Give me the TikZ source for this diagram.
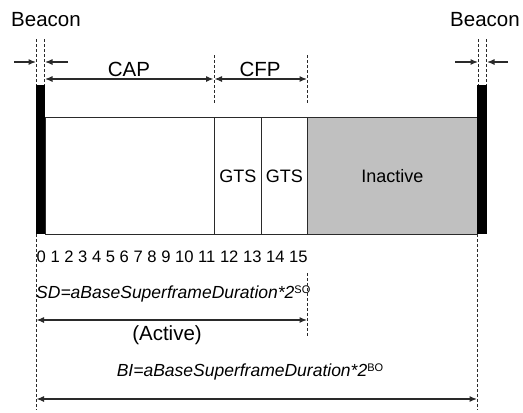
\documentclass[tikz,border=0pt]{standalone}
\usepackage{fontspec}
\setmainfont{Liberation Sans}
\usetikzlibrary{arrows.meta}
\definecolor{edgegray}{HTML}{2A2A2A}
\definecolor{inactgray}{HTML}{C0C0C0}
\newcommand{\supsm}[1]{\raisebox{5.5pt}{\fontsize{11}{12}\selectfont\upshape #1}}
\begin{document}
\begin{tikzpicture}[x=1pt,y=-1pt,
  dashln/.style={draw=edgegray, line width=0.7pt, dash pattern=on 3pt off 2pt},
  arr/.style={draw=edgegray, line width=1.2pt, -{Latex[length=7.5pt,width=6pt]}},
  darr/.style={draw=edgegray, line width=1.2pt, {Latex[length=7.5pt,width=6pt]}-{Latex[length=7.5pt,width=6pt]}},
  slot/.style={draw=edgegray, line width=0.9pt, anchor=north west, inner sep=0pt, minimum height=117pt, font=\fontsize{18}{20}\selectfont},
  bar/.style={fill=black, draw=none, anchor=north west, inner sep=0pt, minimum height=149pt},
  big/.style={inner sep=0pt, font=\fontsize{20.5}{24}\selectfont},
  formula/.style={inner sep=0pt, font=\fontsize{17.5}{20}\selectfont\itshape}
]
\useasboundingbox (0,0) rectangle (523,413);

% frame slots
\node[slot, minimum width=169pt] (capbox) at (45,117) {};
\node[slot, minimum width=47pt] (gtsa) at (214,117) {GTS};
\node[slot, minimum width=46pt] (gtsb) at (261,117) {GTS};
\node[slot, minimum width=170pt, fill=inactgray] (inact) at (307,117) {Inactive};
\node[bar, minimum width=9pt] (bcnL) at (36,85) {};
\node[bar, minimum width=10pt] (bcnR) at (477,85) {};

% labels
\node[big] (tBeaconL) at (46,20) {Beacon};
\node[big] (tBeaconR) at (485,20) {Beacon};
\node[big] (tCAP) at (129,69) {CAP};
\node[big] (tCFP) at (260,69) {CFP};
\node[inner sep=0pt, anchor=west, font=\fontsize{16.6}{18}\selectfont] (nums) at (36.5,257) {0 1 2 3 4 5 6 7 8 9 10 11 12 13 14 15};
\node[formula, anchor=west] (tSD) at (36,294) {SD=aBaseSuperframeDuration*2\supsm{SO}};
\node[big] (tActive) at (167,335) {(Active)};
\node[formula] (tBI) at (250,372) {BI=aBaseSuperframeDuration*2\supsm{BO}};

% coordinates
\coordinate (dL1t) at (36,39);  \coordinate (dL1b) at (36,85);
\coordinate (dL2t) at (44,39);  \coordinate (dL2b) at (44,85);
\coordinate (dR1t) at (478,39); \coordinate (dR1b) at (478,85);
\coordinate (dR2t) at (486,39); \coordinate (dR2b) at (486,85);
\coordinate (dCAPt) at (214,55); \coordinate (dCAPb) at (214,103);
\coordinate (dCFPt) at (307,55); \coordinate (dCFPb) at (307,103);
\coordinate (dLowLt) at (36,234); \coordinate (dLowLb) at (36,410);
\coordinate (dLowRt) at (477,234); \coordinate (dLowRb) at (477,410);
\coordinate (dSDt) at (307,273); \coordinate (dSDb) at (307,336);

\coordinate (aL1s) at (14,62); \coordinate (aL1e) at (36,62);
\coordinate (aL2s) at (68,62); \coordinate (aL2e) at (45,62);
\coordinate (aR1s) at (455,62); \coordinate (aR1e) at (478,62);
\coordinate (aR2s) at (508,62); \coordinate (aR2e) at (487,62);
\coordinate (capS) at (45,79); \coordinate (capE) at (213.5,79);
\coordinate (cfpS) at (214.5,79); \coordinate (cfpE) at (307,79);
\coordinate (sdS) at (36.5,320); \coordinate (sdE) at (307,320);
\coordinate (biS) at (36.5,399); \coordinate (biE) at (477,399);

% dashed guides
\draw[dashln] (dL1t) -- (dL1b);
\draw[dashln] (dL2t) -- (dL2b);
\draw[dashln] (dR1t) -- (dR1b);
\draw[dashln] (dR2t) -- (dR2b);
\draw[dashln] (dCAPt) -- (dCAPb);
\draw[dashln] (dCFPt) -- (dCFPb);
\draw[dashln] (dLowLt) -- (dLowLb);
\draw[dashln] (dLowRt) -- (dLowRb);
\draw[dashln] (dSDt) -- (dSDb);

% arrows
\draw[arr] (aL1s) -- (aL1e);
\draw[arr] (aL2s) -- (aL2e);
\draw[arr] (aR1s) -- (aR1e);
\draw[arr] (aR2s) -- (aR2e);
\draw[darr] (capS) -- (capE);
\draw[darr] (cfpS) -- (cfpE);
\draw[darr] (sdS) -- (sdE);
\draw[darr] (biS) -- (biE);
\end{tikzpicture}
\end{document}
